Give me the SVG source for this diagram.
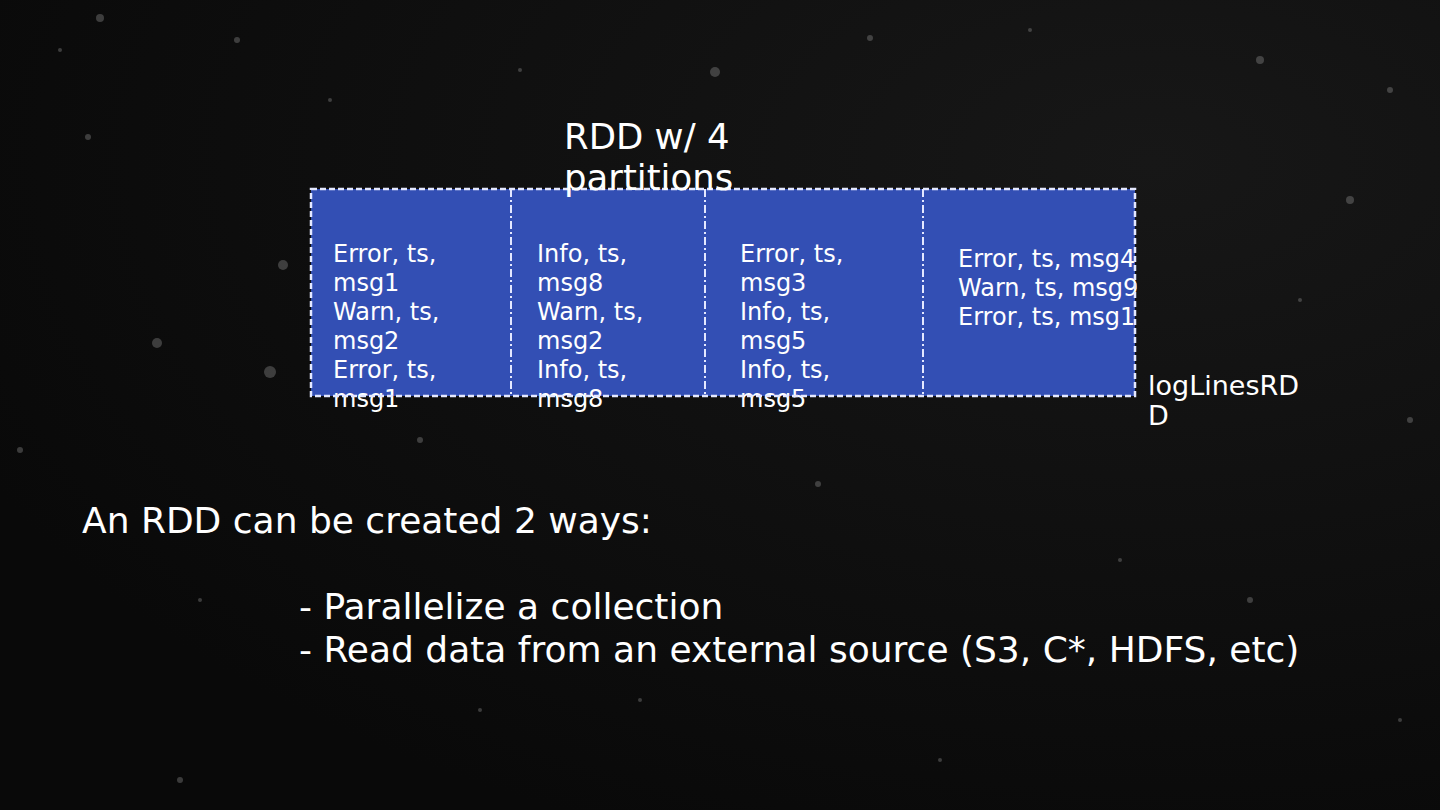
<svg xmlns="http://www.w3.org/2000/svg" width="1440" height="810" viewBox="0 0 1440 810">
<defs>
<style>
text{font-family:"DejaVu Sans","Liberation Sans",sans-serif;fill:#ffffff}
.p{font-size:24px}
.t{font-size:35.5px}
.b{font-size:36px}
.lbl{font-size:27px}
.border{fill:none;stroke:#e4e8ff;stroke-width:2.5;stroke-dasharray:6 3}
.div{fill:none;stroke:#e4e8ff;stroke-width:2;stroke-dasharray:8 3 2 3}
.dot{fill:#9a9a9a}
</style>
<radialGradient id="bg" cx="0.8" cy="0.2" r="0.9">
<stop offset="0" stop-color="#171717"/>
<stop offset="1" stop-color="#090909"/>
</radialGradient>
</defs>
<rect width="1440" height="810" fill="url(#bg)"/>
<g id="specks" opacity="0.35">
<circle class="dot" cx="100" cy="18" r="4"/>
<circle class="dot" cx="237" cy="40" r="3"/>
<circle class="dot" cx="520" cy="70" r="2"/>
<circle class="dot" cx="715" cy="72" r="5"/>
<circle class="dot" cx="870" cy="38" r="3"/>
<circle class="dot" cx="1030" cy="30" r="2"/>
<circle class="dot" cx="1260" cy="60" r="4"/>
<circle class="dot" cx="1390" cy="90" r="3"/>
<circle class="dot" cx="1350" cy="200" r="4"/>
<circle class="dot" cx="1300" cy="300" r="2"/>
<circle class="dot" cx="1410" cy="420" r="3"/>
<circle class="dot" cx="283" cy="265" r="5"/>
<circle class="dot" cx="270" cy="372" r="6"/>
<circle class="dot" cx="157" cy="343" r="5"/>
<circle class="dot" cx="88" cy="137" r="3"/>
<circle class="dot" cx="20" cy="450" r="3"/>
<circle class="dot" cx="420" cy="440" r="3"/>
<circle class="dot" cx="818" cy="484" r="3"/>
<circle class="dot" cx="1120" cy="560" r="2"/>
<circle class="dot" cx="1250" cy="600" r="3"/>
<circle class="dot" cx="200" cy="600" r="2"/>
<circle class="dot" cx="640" cy="700" r="2"/>
<circle class="dot" cx="480" cy="710" r="2"/>
<circle class="dot" cx="180" cy="780" r="3"/>
<circle class="dot" cx="1400" cy="720" r="2"/>
<circle class="dot" cx="940" cy="760" r="2"/>
<circle class="dot" cx="60" cy="50" r="2"/>
<circle class="dot" cx="330" cy="100" r="2"/>
</g>
<g id="rdd">
<rect x="311" y="189" width="824" height="207" fill="#334fb4"/>
</g>
<g id="partition1">
<text class="p"><tspan x="333" y="262">Error, ts,</tspan><tspan x="333" y="291">msg1</tspan><tspan x="333" y="320">Warn, ts,</tspan><tspan x="333" y="349">msg2</tspan><tspan x="333" y="378">Error, ts,</tspan><tspan x="333" y="407">msg1</tspan></text>
</g>
<g id="partition2">
<text class="p"><tspan x="537" y="262">Info, ts,</tspan><tspan x="537" y="291">msg8</tspan><tspan x="537" y="320">Warn, ts,</tspan><tspan x="537" y="349">msg2</tspan><tspan x="537" y="378">Info, ts,</tspan><tspan x="537" y="407">msg8</tspan></text>
</g>
<g id="partition3">
<text class="p"><tspan x="740" y="262">Error, ts,</tspan><tspan x="740" y="291">msg3</tspan><tspan x="740" y="320">Info, ts,</tspan><tspan x="740" y="349">msg5</tspan><tspan x="740" y="378">Info, ts,</tspan><tspan x="740" y="407">msg5</tspan></text>
</g>
<g id="partition4">
<text class="p"><tspan x="958" y="267">Error, ts, msg4</tspan><tspan x="958" y="296">Warn, ts, msg9</tspan><tspan x="958" y="325">Error, ts, msg1</tspan></text>
</g>
<g id="borders">
<rect class="border" x="311" y="189" width="824" height="207"/>
<line class="div" x1="511" y1="189" x2="511" y2="396"/>
<line class="div" x1="705" y1="189" x2="705" y2="396"/>
<line class="div" x1="923" y1="189" x2="923" y2="396"/>
</g>
<g id="title">
<text class="t"><tspan x="564" y="149">RDD w/ 4</tspan><tspan x="564" y="190">partitions</tspan></text>
</g>
<g id="label">
<text class="lbl"><tspan x="1148" y="395">logLinesRD</tspan><tspan x="1148" y="425">D</tspan></text>
</g>
<g id="body">
<text class="b" x="82" y="533">An RDD can be created 2 ways:</text>
<text class="b"><tspan x="299" y="619">- Parallelize a collection</tspan><tspan x="299" y="662">- Read data from an external source (S3, C*, HDFS, etc)</tspan></text>
</g>
</svg>
